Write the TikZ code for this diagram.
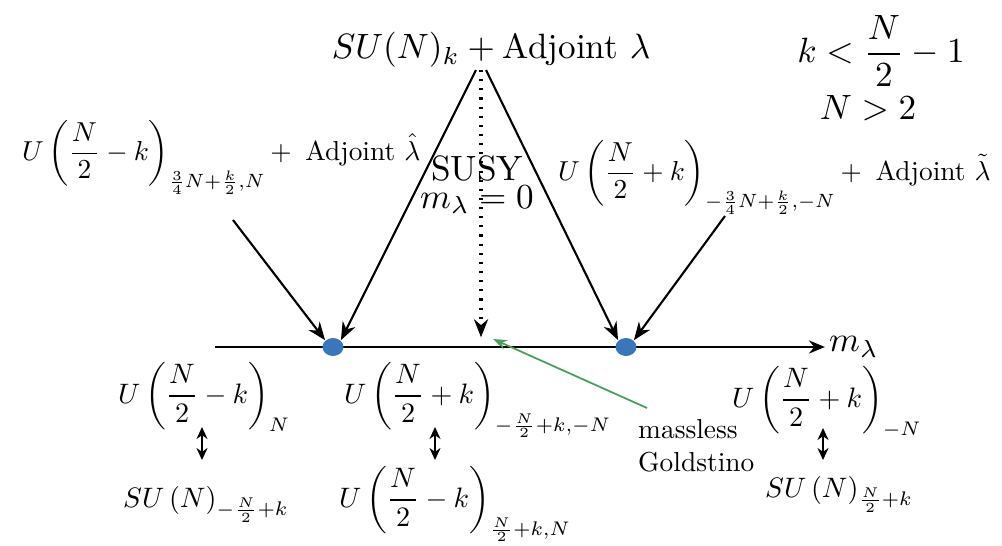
\documentclass[tikz,border=0pt]{standalone}
\usepackage{amsmath}
\usepackage{amssymb}
\usepackage{graphicx}
\usetikzlibrary{shapes.geometric, arrows.meta, positioning, calc}
\definecolor{dotblue}{RGB}{58,118,186}
\definecolor{goldgreen}{RGB}{70,160,90}
\newcommand{\shrinktop}[1]{\scalebox{0.78}{#1}}
\newcommand{\shrinkbot}[1]{\scalebox{0.80}{#1}}

\begin{document}
\begin{tikzpicture}[
    lbl/.style={inner sep=1pt},
    dot/.style={ellipse, fill=dotblue, minimum width=2.1mm, minimum height=1.8mm, inner sep=0pt},
    arrow/.style={-{Stealth[length=1.8mm, width=1.4mm]}, line width=0.6pt},
    dbl/.style={{Stealth[length=1.2mm, width=1.1mm]}-{Stealth[length=1.2mm, width=1.1mm]}, line width=0.6pt}
]
    \useasboundingbox (0,0) rectangle (10.02,-5.45);

    % Top: theory and conditions
    \node[lbl] (top) at (4.91,-0.50) {$SU(N)_k+\text{Adjoint }\lambda$};
    \node[lbl] (cond) at (8.81,-0.51) {$\displaystyle k<\frac{N}{2}-1$};
    \node[lbl] (ngt) at (8.68,-1.08) {$N>2$};
    \coordinate (apex) at (4.81,-0.70);

    % Deformations on both sides
    \node[lbl, anchor=base west] (leftlbl) at (0.18,-1.60)
        {\shrinktop{$\displaystyle U\left(\frac{N}{2}-k\right)_{\frac{3}{4}N+\frac{k}{2},N}{+}$\enspace Adjoint $\hat{\lambda}$}};
    \node[lbl, anchor=base west] (rightlbl) at (5.54,-1.80)
        {\shrinktop{$\displaystyle U\left(\frac{N}{2}+k\right)_{-\frac{3}{4}N+\frac{k}{2},-N}{+}$\enspace Adjoint $\tilde{\lambda}$}};
    \coordinate (leftfrom) at (2.33,-2.20);
    \coordinate (rightfrom) at (7.25,-2.16);

    % SUSY point
    \node[lbl, anchor=base] (susy) at (4.77,-1.80) {SUSY};
    \node[lbl, anchor=base] (mzero) at (4.77,-2.08) {$m_\lambda=0$};

    % Mass axis
    \coordinate (axstart) at (2.15,-3.47);
    \node[lbl, anchor=west] (mlam) at (8.25,-3.47) {$m_\lambda$};
    \draw[-{Stealth[length=1.6mm, width=1.3mm]}, line width=0.8pt] (axstart) -- (mlam.west);
    \node[dot] (dotl) at (3.33,-3.47) {};
    \node[dot] (dotr) at (6.26,-3.47) {};

    \draw[arrow] ([xshift=-0.5mm]apex) -- (dotl.north east);
    \draw[arrow] ([xshift=0.5mm]apex) -- (dotr.north west);
    \draw[arrow] (leftfrom) -- (dotl.north west);
    \draw[arrow] (rightfrom) -- (dotr.north east);
    \draw[arrow, dotted, line width=0.9pt] (apex) -- (apex |- dotl.north);

    % Goldstino
    \node[lbl, anchor=north west] (gold) at (6.34,-4.11)
        {\shrinktop{\begin{tabular}{@{}l@{}}massless\\Goldstino\end{tabular}}};
    \coordinate (goldfrom) at (6.47,-4.08);
    \coordinate (goldto) at (4.93,-3.39);
    \draw[-{Stealth[length=1.4mm, width=1mm]}, goldgreen, line width=0.5pt] (goldfrom) -- (goldto);

    % Dual descriptions below the axis
    \node[lbl, anchor=base west] (ul) at (1.14,-4.03)
        {\shrinkbot{$\displaystyle U\left(\frac{N}{2}-k\right)_N$}};
    \node[lbl, anchor=base west] (sul) at (1.19,-5.07)
        {\shrinkbot{$\displaystyle SU\left(N\right)_{-\frac{N}{2}+k}$}};
    \node[lbl, anchor=base west] (uc) at (3.40,-4.03)
        {\shrinkbot{$\displaystyle U\left(\frac{N}{2}+k\right)_{-\frac{N}{2}+k,-N}$}};
    \node[lbl, anchor=base west] (ucd) at (3.35,-5.07)
        {\shrinkbot{$\displaystyle U\left(\frac{N}{2}-k\right)_{\frac{N}{2}+k,N}$}};
    \node[lbl, anchor=base west] (ur) at (7.28,-4.07)
        {\shrinkbot{$\displaystyle U\left(\frac{N}{2}+k\right)_{-N}$}};
    \node[lbl, anchor=base west] (sur) at (7.61,-4.97)
        {\shrinkbot{$\displaystyle SU\left(N\right)_{\frac{N}{2}+k}$}};

    \draw[dbl] ([xshift=8.8mm, yshift=-2.4mm]ul.base west) -- ++(0,-0.33);
    \draw[dbl] ([xshift=9.5mm, yshift=-2.4mm]uc.base west) -- ++(0,-0.33);
    \draw[dbl] ([xshift=9.5mm, yshift=-2.1mm]ur.base west) -- ++(0,-0.32);
\end{tikzpicture}
\end{document}
